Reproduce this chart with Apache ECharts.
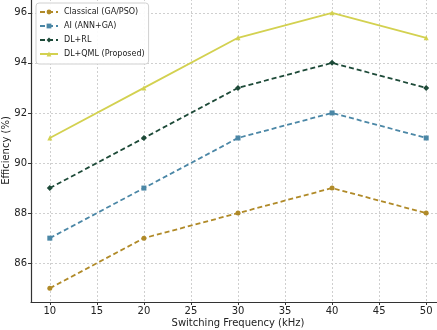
<!DOCTYPE html>
<html>
<head>
<meta charset="utf-8">
<script src="https://cdn.jsdelivr.net/npm/echarts@6/dist/echarts.min.js"></script>
<style>
  html, body { margin: 0; padding: 0; background: #fff; }
  #chart { width: 437px; height: 330px; }
</style>
</head>
<body>
<div id="chart"></div>
<script>
const freqs = [10, 20, 30, 40, 50];
const classical = [85, 87, 88, 89, 88];
const aiAnnGa = [87, 89, 91, 92, 91];
const dlRl = [89, 91, 93, 94, 93];
const dlQml = [91, 93, 95, 96, 95];
const xTicks = [10, 15, 20, 25, 30, 35, 40, 45, 50];
const yTicks = [86, 88, 90, 92, 94, 96];

const font = 'DejaVu Sans';

const pairs = (vals) => freqs.map((f, i) => [f, vals[i]]);

const mkSeries = (name, vals, color, symbol, dashed, size) => ({
  name: name,
  type: 'line',
  data: pairs(vals),
  symbol: symbol,
  symbolSize: size,
  lineStyle: { color: color, width: 1.8, type: dashed ? [5, 3] : 'solid' },
  itemStyle: { color: color },
  emphasis: { disabled: true }
});

const myChart = echarts.init(document.getElementById('chart'));
myChart.setOption({
  animation: false,
  textStyle: { fontFamily: font },
  grid: { left: 31, right: -8, top: -1, bottom: 28, outerBoundsMode: 'none', containLabel: false },
  legend: {
    orient: 'vertical',
    left: 36,
    top: 3,
    itemWidth: 18,
    itemHeight: 6,
    itemGap: 6,
    padding: [5, 4, 6, 3],
    backgroundColor: 'rgba(255,255,255,0.9)',
    borderColor: '#d0d0d0',
    borderWidth: 1,
    borderRadius: 3,
    textStyle: { fontFamily: font, fontSize: 8, color: '#222', padding: [0, 0, 0, 1] },
    data: ['Classical (GA/PSO)', 'AI (ANN+GA)', 'DL+RL', 'DL+QML (Proposed)']
  },
  xAxis: {
    type: 'value',
    min: 8,
    max: 52,
    name: 'Switching Frequency (kHz)',
    nameLocation: 'middle',
    nameGap: 16,
    nameMoveOverlap: false,
    nameTextStyle: { fontFamily: font, fontSize: 10, color: '#222' },
    axisLine: { lineStyle: { color: '#333', width: 1.2 } },
    axisTick: { customValues: xTicks, length: 3, lineStyle: { color: '#333' } },
    axisLabel: { customValues: xTicks, fontSize: 10, color: '#222', margin: 4 },
    splitLine: { show: true, lineStyle: { color: '#cfcfcf', type: [2, 2], width: 1 } }
  },
  yAxis: {
    type: 'value',
    min: 84.45,
    max: 96.55,
    name: 'Efficiency (%)',
    nameLocation: 'middle',
    nameGap: 20,
    nameMoveOverlap: false,
    nameTextStyle: { fontFamily: font, fontSize: 10, color: '#222' },
    axisLine: { show: true, lineStyle: { color: '#333', width: 1.2 } },
    axisTick: { show: true, customValues: yTicks, length: 3, lineStyle: { color: '#333' } },
    axisLabel: { customValues: yTicks, fontSize: 10, color: '#222', margin: 4 },
    splitLine: { show: true, lineStyle: { color: '#cfcfcf', type: [2, 2], width: 1 } }
  },
  series: [
    mkSeries('Classical (GA/PSO)', classical, '#b08a28', 'circle', true, 5),
    mkSeries('AI (ANN+GA)', aiAnnGa, '#4b87a6', 'rect', true, 5),
    mkSeries('DL+RL', dlRl, '#1d4a38', 'diamond', true, 6),
    mkSeries('DL+QML (Proposed)', dlQml, '#d3d150', 'triangle', false, 5)
  ]
});
</script>
</body>
</html>
